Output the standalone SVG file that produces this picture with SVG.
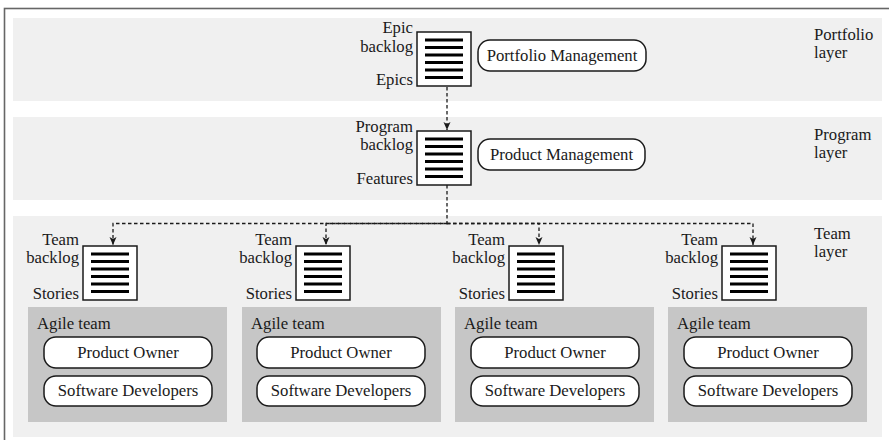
<svg xmlns="http://www.w3.org/2000/svg" width="889" height="440" viewBox="0 0 889 440" font-family="'Liberation Serif', 'Times New Roman', Times, serif">
  <style>
    text { font-family: "Liberation Serif", "Times New Roman", Times, serif; font-size: 16.7px; fill: #1a1a1a; }
    .band { fill: #f0f0f0; }
    .team { fill: #c6c6c6; }
    .pill { fill: #ffffff; stroke: #1a1a1a; stroke-width: 1.5; }
    .doc { fill: #ffffff; stroke: #1a1a1a; stroke-width: 1.5; }
    .row { stroke: #000000; stroke-width: 3; }
    .dash { fill: none; stroke: #1a1a1a; stroke-width: 1.3; stroke-dasharray: 3.5 2.5; }
    .mid { text-anchor: middle; }
    .end { text-anchor: end; }
  </style>
  <defs>
    <marker id="arrow" markerUnits="userSpaceOnUse" markerWidth="10" markerHeight="10" viewBox="0 0 10 10" refX="9" refY="5" orient="auto">
      <path d="M1,1.5 L9,5 L1,8.5 L3,5 z" fill="#1a1a1a"/>
    </marker>
    <!-- backlog document with six list rows -->
    <g id="backlog">
      <rect class="doc" x="0" y="0" width="54" height="54"/>
      <line class="row" x1="8" y1="8" x2="46" y2="8"/>
      <line class="row" x1="8" y1="15.5" x2="46" y2="15.5"/>
      <line class="row" x1="8" y1="23" x2="46" y2="23"/>
      <line class="row" x1="8" y1="30.5" x2="46" y2="30.5"/>
      <line class="row" x1="8" y1="38" x2="46" y2="38"/>
      <line class="row" x1="8" y1="45.5" x2="46" y2="45.5"/>
    </g>
  </defs>

  <rect width="889" height="440" fill="#ffffff"/>
  <!-- outer frame -->
  <rect x="4.5" y="8.5" width="900" height="450" fill="none" stroke="#666666" stroke-width="1.6"/>

  <!-- layer bands -->
  <g id="layers">
    <rect class="band" x="13" y="18" width="869" height="83"/>
    <rect class="band" x="13" y="117" width="869" height="83"/>
    <rect class="band" x="13" y="216" width="869" height="221"/>
    <text x="814" y="39.5">Portfolio</text>
    <text x="814" y="57.5">layer</text>
    <text x="814" y="139.5">Program</text>
    <text x="814" y="157.5">layer</text>
    <text x="814" y="238.5">Team</text>
    <text x="814" y="256.5">layer</text>
  </g>

  <!-- portfolio layer -->
  <g id="epic-backlog">
    <use href="#backlog" x="417" y="32"/>
    <text class="end" x="413" y="33">Epic</text>
    <text class="end" x="413" y="52">backlog</text>
    <text class="end" x="413" y="85">Epics</text>
  </g>
  <g id="portfolio-management">
    <rect class="pill" x="478" y="40" width="168" height="31" rx="12"/>
    <text class="mid" x="562" y="61">Portfolio Management</text>
  </g>

  <!-- program layer -->
  <g id="program-backlog">
    <use href="#backlog" x="417" y="131"/>
    <text class="end" x="413" y="132">Program</text>
    <text class="end" x="413" y="150">backlog</text>
    <text class="end" x="413" y="184">Features</text>
  </g>
  <g id="product-management">
    <rect class="pill" x="478" y="139" width="167" height="31" rx="12"/>
    <text class="mid" x="561.5" y="160">Product Management</text>
  </g>

  <!-- team layer: four teams -->
  <g id="team-1">
    <use href="#backlog" x="83" y="246"/>
    <text class="end" x="79" y="245">Team</text>
    <text class="end" x="79" y="263">backlog</text>
    <text class="end" x="79" y="299">Stories</text>
    <rect class="team" x="28" y="307" width="199" height="115"/>
    <text x="37" y="329">Agile team</text>
    <rect class="pill" x="44" y="337" width="168" height="31" rx="12"/>
    <text class="mid" x="128" y="358">Product Owner</text>
    <rect class="pill" x="44" y="376" width="168" height="30" rx="12"/>
    <text class="mid" x="128" y="396">Software Developers</text>
  </g>
  <g id="team-2">
    <use href="#backlog" x="296" y="246"/>
    <text class="end" x="292" y="245">Team</text>
    <text class="end" x="292" y="263">backlog</text>
    <text class="end" x="292" y="299">Stories</text>
    <rect class="team" x="242" y="307" width="199" height="115"/>
    <text x="251" y="329">Agile team</text>
    <rect class="pill" x="257" y="337" width="168" height="31" rx="12"/>
    <text class="mid" x="341" y="358">Product Owner</text>
    <rect class="pill" x="257" y="376" width="168" height="30" rx="12"/>
    <text class="mid" x="341" y="396">Software Developers</text>
  </g>
  <g id="team-3">
    <use href="#backlog" x="509" y="246"/>
    <text class="end" x="505" y="245">Team</text>
    <text class="end" x="505" y="263">backlog</text>
    <text class="end" x="505" y="299">Stories</text>
    <rect class="team" x="455" y="307" width="199" height="115"/>
    <text x="464" y="329">Agile team</text>
    <rect class="pill" x="471" y="337" width="168" height="31" rx="12"/>
    <text class="mid" x="555" y="358">Product Owner</text>
    <rect class="pill" x="471" y="376" width="168" height="30" rx="12"/>
    <text class="mid" x="555" y="396">Software Developers</text>
  </g>
  <g id="team-4">
    <use href="#backlog" x="722" y="246"/>
    <text class="end" x="718" y="245">Team</text>
    <text class="end" x="718" y="263">backlog</text>
    <text class="end" x="718" y="299">Stories</text>
    <rect class="team" x="668" y="307" width="199" height="115"/>
    <text x="677" y="329">Agile team</text>
    <rect class="pill" x="684" y="337" width="168" height="31" rx="12"/>
    <text class="mid" x="768" y="358">Product Owner</text>
    <rect class="pill" x="684" y="376" width="168" height="30" rx="12"/>
    <text class="mid" x="768" y="396">Software Developers</text>
  </g>

  <!-- connectors -->
  <g id="connectors">
    <path class="dash" d="M447,87 V130" marker-end="url(#arrow)"/>
    <path class="dash" d="M447,185 V223.5 H113 V245" marker-end="url(#arrow)"/>
    <path class="dash" d="M447,223.5 H326 V245" marker-end="url(#arrow)"/>
    <path class="dash" d="M447,223.5 H539 V245" marker-end="url(#arrow)"/>
    <path class="dash" d="M447,223.5 H753 V245" marker-end="url(#arrow)"/>
  </g>
</svg>
